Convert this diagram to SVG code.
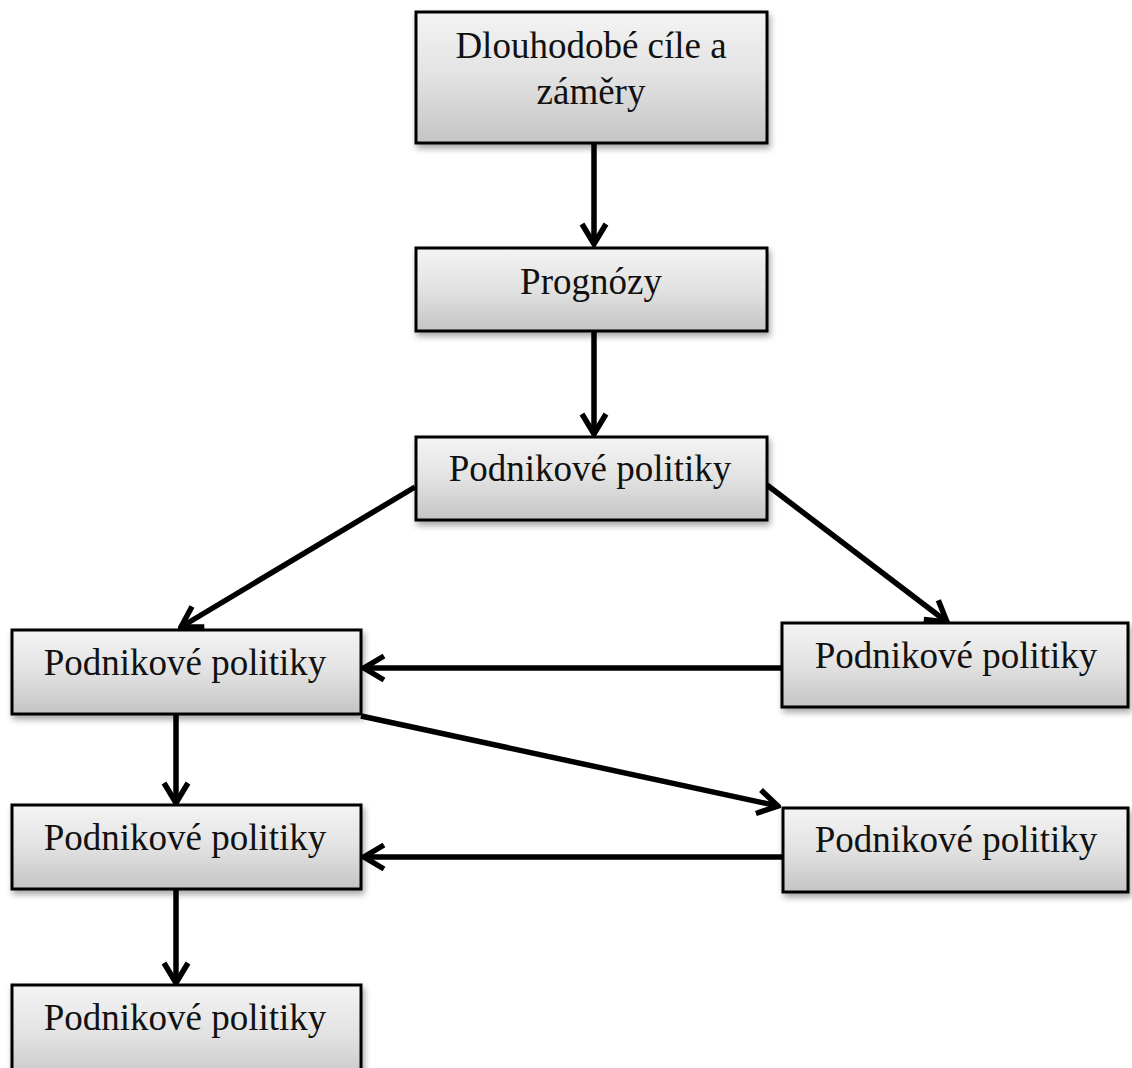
<svg xmlns="http://www.w3.org/2000/svg" width="1132" height="1068" viewBox="0 0 1132 1068">
<defs>
<linearGradient id="g" x1="0" y1="0" x2="0" y2="1">
<stop offset="0" stop-color="#f4f4f4"/>
<stop offset="0.5" stop-color="#e2e2e2"/>
<stop offset="1" stop-color="#c4c4c4"/>
</linearGradient>
<filter id="sh" x="-10%" y="-20%" width="120%" height="150%">
<feDropShadow dx="2" dy="4" stdDeviation="3" flood-color="#000" flood-opacity="0.35"/>
</filter>
<marker id="ah" markerUnits="userSpaceOnUse" viewBox="0 0 26 30" refX="23" refY="15" markerWidth="26" markerHeight="30" orient="auto">
<path d="M3,3 L23,15 L3,27" fill="none" stroke="#000" stroke-width="5.5"/>
</marker>
</defs>
<style>
.box{fill:url(#g);stroke:#000;stroke-width:3;filter:url(#sh)}
.t{font-family:"Liberation Serif","Times New Roman",serif;font-size:37px;fill:#111;text-anchor:middle}
.c{stroke:#000;stroke-width:5.5;fill:none;marker-end:url(#ah)}
</style>
<rect width="1132" height="1068" fill="#fff"/>
<g id="connectors">
<line class="c" x1="594" y1="143" x2="594" y2="244"/>
<line class="c" x1="594" y1="332" x2="594" y2="434"/>
<line class="c" x1="415" y1="487" x2="181" y2="627"/>
<line class="c" x1="767" y1="485" x2="947" y2="622"/>
<line class="c" x1="782" y1="668" x2="364" y2="668"/>
<line class="c" x1="361" y1="716" x2="778" y2="806"/>
<line class="c" x1="176" y1="715" x2="176" y2="803"/>
<line class="c" x1="782" y1="857" x2="364" y2="857"/>
<line class="c" x1="176" y1="890" x2="176" y2="983"/>
</g>
<g id="n1"><rect class="box" x="416" y="12" width="351" height="131"/>
<text class="t" x="591" y="58">Dlouhodobé cíle a</text>
<text class="t" x="591" y="104">záměry</text></g>
<g id="n2"><rect class="box" x="416" y="248" width="351" height="83"/>
<text class="t" x="591" y="294">Prognózy</text></g>
<g id="n3"><rect class="box" x="416" y="437" width="351" height="83"/>
<text class="t" x="590" y="481">Podnikové politiky</text></g>
<g id="n4"><rect class="box" x="12" y="630" width="349" height="84"/>
<text class="t" x="185" y="675">Podnikové politiky</text></g>
<g id="n5"><rect class="box" x="782" y="623" width="346" height="84"/>
<text class="t" x="956" y="668">Podnikové politiky</text></g>
<g id="n6"><rect class="box" x="12" y="805" width="349" height="84"/>
<text class="t" x="185" y="850">Podnikové politiky</text></g>
<g id="n7"><rect class="box" x="783" y="808" width="345" height="84"/>
<text class="t" x="956" y="852">Podnikové politiky</text></g>
<g id="n8"><rect class="box" x="12" y="985" width="349" height="100"/>
<text class="t" x="185" y="1030">Podnikové politiky</text></g>
</svg>
